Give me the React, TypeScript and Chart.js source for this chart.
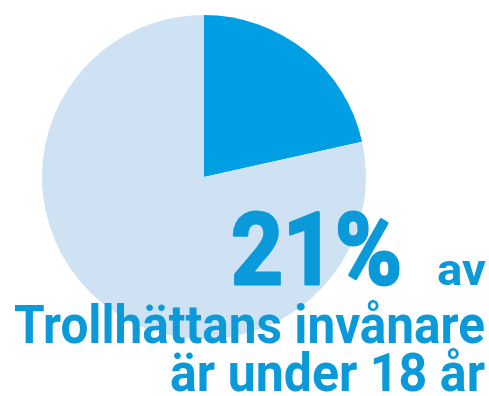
import React, { useEffect, useRef } from "react";
import { Chart, registerables } from "chart.js";

Chart.register(...registerables);

const categories = ["Under 18 år", "18 år och äldre"];
const shares = [21.5, 78.5];
const sliceColors = ["#009fe3", "#cfe2f4"];
const bigLabel = "21%";
const smallLabel = "av";
const line2 = "Trollhättans invånare";
const line3 = "är under 18 år";
const textColor = "#0a9ad9";
const FONT = 'Roboto, "DejaVu Sans", sans-serif';

function drawFit(ctx: CanvasRenderingContext2D, text: string, right: number, baseline: number, size: number, width: number, extra = 0) {
  ctx.save();
  ctx.font = `bold ${size}px ${FONT}`;
  const w = ctx.measureText(text).width;
  const sx = width / w;
  ctx.translate(right, baseline);
  ctx.scale(sx, 1);
  ctx.textAlign = "right";
  ctx.textBaseline = "alphabetic";
  ctx.fillStyle = textColor;
  ctx.fillText(text, 0, 0);
  if (extra > 0) {
    ctx.strokeStyle = textColor;
    ctx.lineWidth = extra;
    ctx.lineJoin = "round";
    ctx.strokeText(text, 0, 0);
  }
  ctx.restore();
}

const textPlugin = {
  id: "overlayText",
  afterDraw(chart: any) {
    const ctx = chart.ctx as CanvasRenderingContext2D;
    drawFit(ctx, bigLabel, 402, 284, 100, 171, 3);
    drawFit(ctx, smallLabel, 486, 285, 44, 49);
    drawFit(ctx, line2, 485, 343, 53, 471);
    drawFit(ctx, line3, 485, 391, 53, 315);
  },
};

export default function App() {
  const ref = useRef<HTMLCanvasElement | null>(null);
  useEffect(() => {
    if (!ref.current) return;
    const chart = new Chart(ref.current, {
      type: "pie",
      data: {
        labels: categories,
        datasets: [
          {
            data: shares,
            backgroundColor: sliceColors,
            borderWidth: 0,
          },
        ],
      },
      options: {
        animation: false,
        responsive: false,
        layout: { padding: { left: 42, top: 15, right: 123, bottom: 57 } },
        plugins: { legend: { display: false }, tooltip: { enabled: false } },
      },
      plugins: [textPlugin],
    });
    return () => chart.destroy();
  }, []);
  return (
    <div style={{ position: "fixed", left: 0, top: 0, width: 489, height: 396, background: "#fff" }}>
      <canvas ref={ref} width={489} height={396} style={{ width: 489, height: 396 }} />
    </div>
  );
}
